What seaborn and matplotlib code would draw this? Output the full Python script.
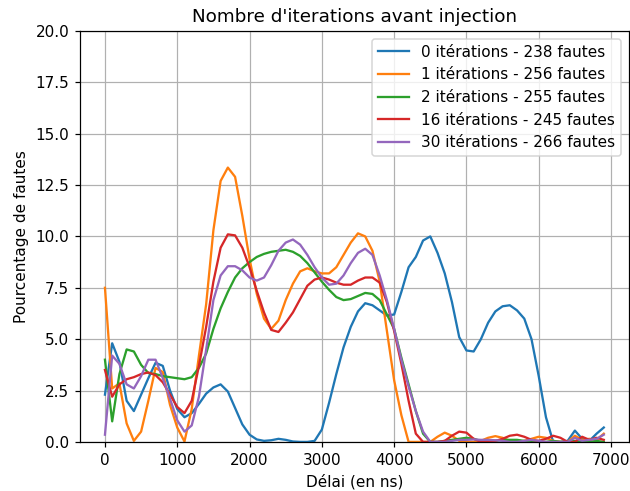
import numpy as np
import pandas as pd
import matplotlib
matplotlib.use("Agg")
import matplotlib.pyplot as plt
import seaborn as sns

# délai en ns, un point tous les 100 ns
delais = list(range(0, 7000, 100))

iter_0 = [2.3, 4.8, 3.9, 2.0, 1.5, 2.3, 3.1, 3.85, 3.7, 2.5,
          1.6, 1.2, 1.4, 1.85, 2.35, 2.65, 2.8, 2.45, 1.65, 0.85,
          0.35, 0.12, 0.05, 0.08, 0.15, 0.1, 0.02, 0.0, 0.0, 0.05,
          0.6, 1.9, 3.3, 4.6, 5.6, 6.35, 6.75, 6.65, 6.4, 6.15,
          6.2, 7.3, 8.5, 9.0, 9.8, 10.0, 9.2, 8.2, 6.8, 5.1,
          4.45, 4.4, 5.0, 5.8, 6.35, 6.6, 6.65, 6.4, 6.0, 5.0,
          3.2, 1.2, 0.0, 0.0, 0.05, 0.55, 0.15, 0.05, 0.4, 0.7]
iter_1 = [7.5, 2.6, 2.85, 0.9, 0.05, 0.5, 2.0, 3.6, 3.4, 1.8,
          0.7, 0.02, 1.6, 4.2, 6.7, 10.3, 12.7, 13.35, 12.9, 11.0,
          8.9, 7.2, 6.0, 5.5, 5.9, 6.9, 7.7, 8.3, 8.45, 8.3,
          8.2, 8.2, 8.5, 9.1, 9.7, 10.15, 10.0, 9.3, 7.8, 5.4,
          3.0, 1.3, 0.0, 0.0, 0.0, 0.0, 0.25, 0.45, 0.3, 0.05,
          0.0, 0.0, 0.05, 0.2, 0.28, 0.2, 0.05, 0.0, 0.05, 0.15,
          0.25, 0.2, 0.05, 0.0, 0.0, 0.3, 0.1, 0.15, 0.1, 0.4]
iter_2 = [4.0, 1.0, 3.3, 4.5, 4.4, 3.75, 3.35, 3.3, 3.2, 3.15,
          3.1, 3.05, 3.15, 3.6, 4.3, 5.5, 6.5, 7.3, 8.0, 8.45,
          8.75, 9.0, 9.15, 9.25, 9.3, 9.35, 9.25, 9.05, 8.7, 8.25,
          7.8, 7.4, 7.05, 6.9, 6.95, 7.1, 7.25, 7.2, 6.9, 6.2,
          5.5, 4.1, 2.8, 1.5, 0.4, 0.0, 0.0, 0.05, 0.1, 0.15,
          0.2, 0.15, 0.05, 0.02, 0.05, 0.1, 0.1, 0.1, 0.05, 0.0,
          0.0, 0.0, 0.05, 0.0, 0.0, 0.05, 0.0, 0.0, 0.05, 0.0]
iter_16 = [3.5, 2.2, 2.8, 3.05, 3.15, 3.3, 3.38, 3.25, 2.9, 2.3,
           1.7, 1.4, 2.0, 3.7, 5.6, 7.8, 9.45, 10.1, 10.05, 9.45,
           8.5, 7.35, 6.3, 5.45, 5.35, 5.8, 6.3, 6.95, 7.6, 7.9,
           8.0, 7.9, 7.75, 7.65, 7.65, 7.85, 8.0, 8.0, 7.75, 6.8,
           5.4, 3.8, 2.0, 0.4, 0.0, 0.0, 0.0, 0.05, 0.3, 0.5,
           0.45, 0.15, 0.0, 0.0, 0.05, 0.15, 0.3, 0.35, 0.25, 0.1,
           0.05, 0.15, 0.3, 0.2, 0.0, 0.0, 0.25, 0.1, 0.2, 0.1]
iter_30 = [0.35, 4.2, 3.8, 2.8, 2.6, 3.2, 4.0, 4.0, 3.1, 2.1,
           1.05, 0.5, 0.8, 2.2, 4.5, 6.9, 8.1, 8.55, 8.55, 8.35,
           8.0, 7.85, 8.0, 8.6, 9.3, 9.7, 9.85, 9.6, 9.1, 8.5,
           8.0, 7.65, 7.7, 8.1, 8.7, 9.2, 9.4, 9.1, 8.1, 6.9,
           5.5, 4.0, 2.7, 1.5, 0.5, 0.0, 0.0, 0.0, 0.05, 0.1,
           0.1, 0.12, 0.1, 0.1, 0.08, 0.05, 0.0, 0.0, 0.05, 0.1,
           0.05, 0.0, 0.0, 0.0, 0.0, 0.2, 0.05, 0.1, 0.15, 0.35]

labels = ["0 itérations - 238 fautes", "1 itérations - 256 fautes",
          "2 itérations - 255 fautes", "16 itérations - 245 fautes",
          "30 itérations - 266 fautes"]
series = [iter_0, iter_1, iter_2, iter_16, iter_30]

df = pd.concat([pd.DataFrame({"delai": delais, "pourcentage": s, "serie": lab})
                for s, lab in zip(series, labels)], ignore_index=True)

# dpi 110 : le rendu de référence a des textes et traits ~10% plus gros
fig, ax = plt.subplots(figsize=(630 / 110, 491 / 110), dpi=110)
sns.lineplot(data=df, x="delai", y="pourcentage", hue="serie", hue_order=labels,
             palette="tab10", estimator=None, linewidth=1.5, ax=ax)

ax.set_ylim(0, 20)
ax.set_yticks(np.arange(0, 20.1, 2.5))
ax.grid(True, color="#b0b0b0", linewidth=0.8)
ax.set_title("Nombre d'iterations avant injection")
ax.set_xlabel("Délai (en ns)")
ax.set_ylabel("Pourcentage de fautes")
ax.legend(loc="upper right", title=None)

plt.subplots_adjust(left=0.127, right=0.998, bottom=0.1, top=0.937)
plt.savefig("out.png", dpi=110)
